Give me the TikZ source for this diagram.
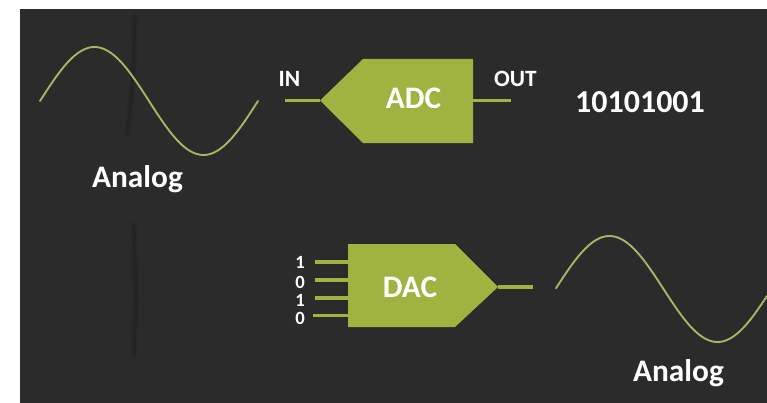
\documentclass[tikz,border=0pt]{standalone}
\usepackage{fontspec}
\setmainfont{Carlito}
\definecolor{bgdark}{HTML}{2B2B2B}
\definecolor{olive}{HTML}{A0B240}
\definecolor{wave}{HTML}{A9B665}
\definecolor{streak}{HTML}{141414}
\tikzset{
  block/.style={fill=olive,draw=none},
  wire/.style={draw=olive,line width=2.7pt},
  sinewave/.style={draw=wave,line width=1.4pt,smooth,line cap=round},
  softstreak/.style={draw=streak,opacity=.08,line cap=round},
  lab/.style={text=white,font=\bfseries,inner sep=0pt,anchor=center},
  big/.style={lab,font=\fontsize{23.5}{25}\selectfont\bfseries},
  small/.style={lab,font=\fontsize{17.5}{19}\selectfont\bfseries},
  digit/.style={lab,font=\fontsize{14}{15}\selectfont\bfseries}
}
\begin{document}
\begin{tikzpicture}[x=0.75pt,y=-0.75pt]
\useasboundingbox (0,0) rectangle (767,403);
\fill[white] (0,0) rectangle (767,403);
\fill[bgdark] (20,9) rectangle (767,403);
% soft streaks in the dark backdrop
\foreach \w in {1.2pt,2.4pt,3.6pt,4.8pt}{
  \draw[softstreak,line width=\w] (135,16) .. controls (134,60) and (133,90) .. (127,133);
  \draw[softstreak,line width=\w] (134,225) -- (136,300) -- (134,355);
}
% ADC
\coordinate (adctip) at (320,100.5);
\coordinate (adcout) at (473,100.5);
\coordinate (adcin) at (285,100.5);
\coordinate (outend) at (511,100.5);
\fill[block] (adctip) -- (363,59) -- (473,59) -- (473,143) -- (363,143) -- cycle;
\draw[wire] (adcin) -- (adctip);
\draw[wire] (adcout) -- (outend);
\node[big] (adc) at (413.5,98.5) {ADC};
\node[small] (in) at (289.5,78.5) {IN};
\node[small] (out) at (515.5,79) {OUT};
\node[lab,font=\fontsize{24}{26}\selectfont\bfseries] (bits) at (640,102.5) {10101001};
% DAC
\coordinate (dactip) at (498,287);
\coordinate (dacend) at (533,287);
\fill[block] (348,244) -- (455,244) -- (dactip) -- (455,327) -- (348,327) -- cycle;
\coordinate (a1) at (348,262); \coordinate (b1) at (315,262);
\coordinate (a2) at (348,280); \coordinate (b2) at (315,280);
\coordinate (a3) at (348,298); \coordinate (b3) at (315,298);
\coordinate (a4) at (348,315.5); \coordinate (b4) at (313,315.5);
\draw[wire] (b1) -- (a1);
\draw[wire] (b2) -- (a2);
\draw[wire] (b3) -- (a3);
\draw[wire] (b4) -- (a4);
\draw[wire] (dactip) -- (dacend);
\node[big] (dac) at (410,287.5) {DAC};
\node[digit] (d1) at (300,262) {1};
\node[digit] (d2) at (300,282) {0};
\node[digit] (d3) at (300,300) {1};
\node[digit] (d4) at (300,318) {0};
% waves
\draw[sinewave] plot[samples=90,domain=40:258] (\x,{101-54*sin((\x-40)/218*360)});
\draw[sinewave] plot[samples=90,domain=556:767] (\x,{289-53*sin((\x-555.5)/216*360)});
\node[big] (an1) at (137.5,179) {Analog};
\node[big] (an2) at (678.5,373) {Analog};
\end{tikzpicture}
\end{document}
